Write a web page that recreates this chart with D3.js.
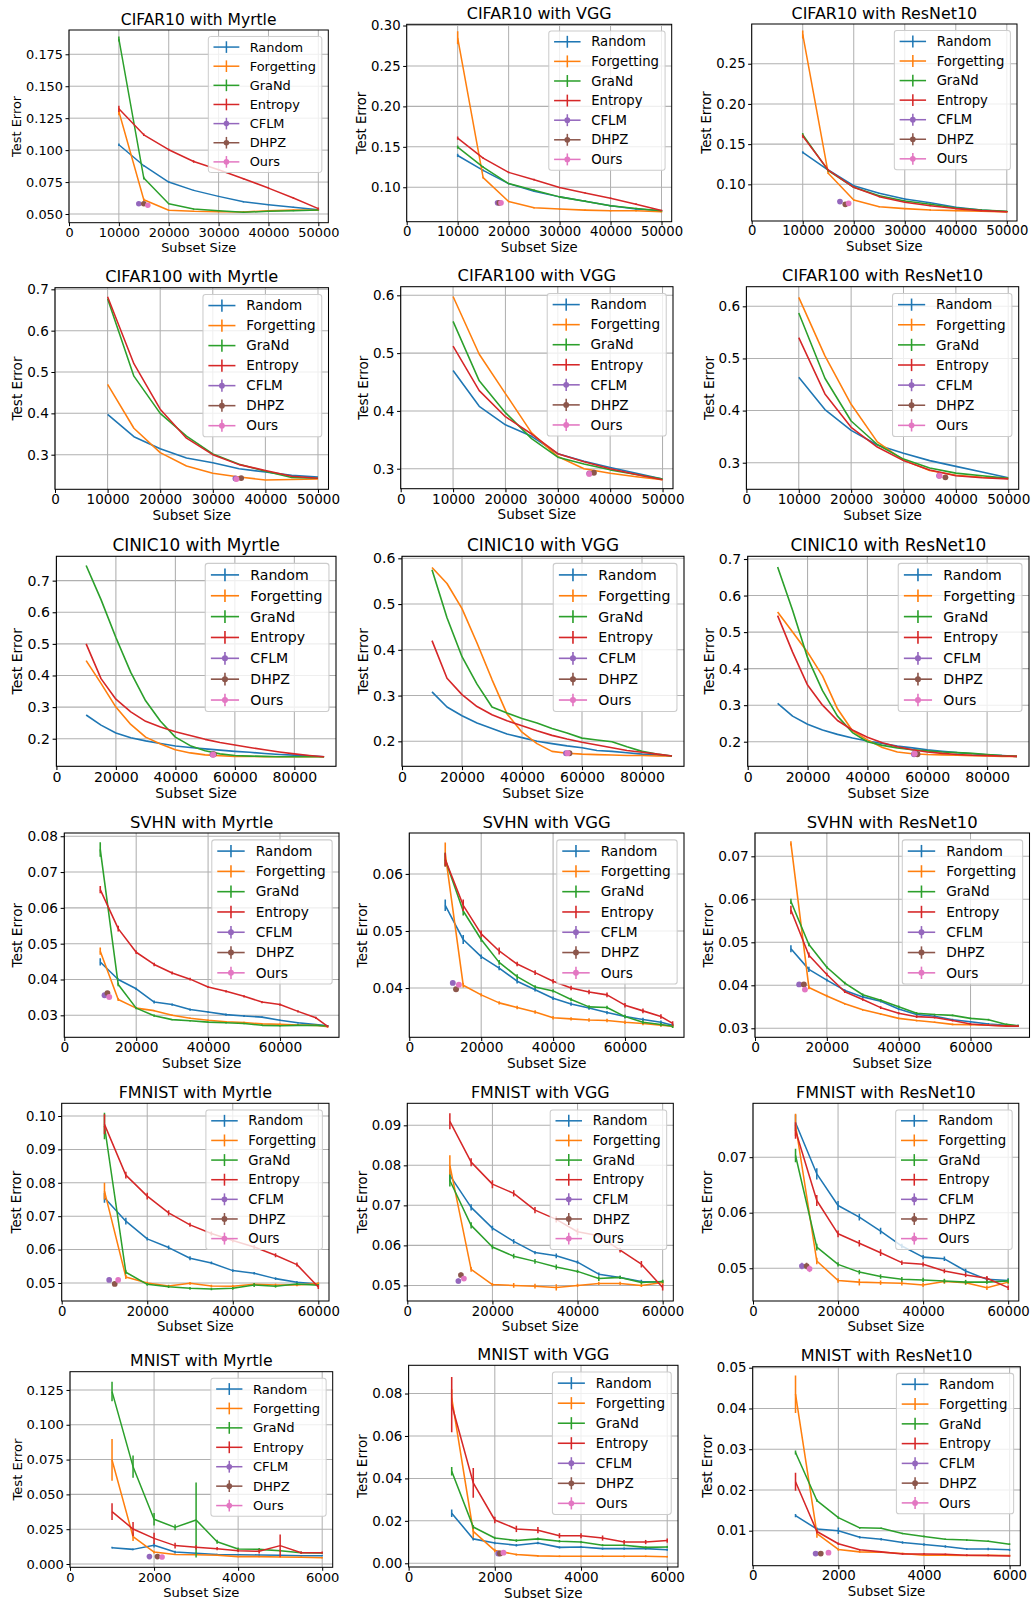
<!DOCTYPE html>
<html>
<head>
<meta charset="utf-8">
<script src="https://cdn.jsdelivr.net/npm/d3@7"></script>
<style>
body { margin: 0; background: #fff; }
svg text { font-family: "DejaVu Sans", sans-serif; fill: #000; }
</style>
</head>
<body>
<script>
// methods and colours (matplotlib tab10)
var methods = ["Random", "Forgetting", "GraNd", "Entropy", "CFLM", "DHPZ", "Ours"];
var colors = ["#1f77b4", "#ff7f0e", "#2ca02c", "#d62728", "#9467bd", "#8c564b", "#e377c2"];

// subset sizes
var sizesCifar = [10000, 15000, 20000, 25000, 30000, 35000, 40000, 45000, 50000];
var sizesCinic = [10000, 15000, 20000, 25000, 30000, 35000, 40000, 45000, 50000, 55000, 60000, 65000, 70000, 75000, 80000, 85000, 90000];
var sizesSvhn = [10000, 15000, 20000, 25000, 30000, 35000, 40000, 45000, 50000, 55000, 60000, 65000, 70000, 73257];
var sizesFmnist = [10000, 15000, 20000, 25000, 30000, 35000, 40000, 45000, 50000, 55000, 60000];
var sizesMnist = [1000, 1500, 2000, 2500, 3000, 3500, 4000, 4500, 5000, 5500, 6000];

// x tick labels
var xTicksCifar = [0, 10000, 20000, 30000, 40000, 50000];
var xTicksCinic = [0, 20000, 40000, 60000, 80000];
var xTicksSvhn = [0, 20000, 40000, 60000];
var xTicksFmnist = [0, 20000, 40000, 60000];
var xTicksMnist = [0, 2000, 4000, 6000];

// y tick labels
var yTicksA = [0.050, 0.075, 0.100, 0.125, 0.150, 0.175];
var yTicksB = [0.10, 0.15, 0.20, 0.25, 0.30];
var yTicksC = [0.10, 0.15, 0.20, 0.25];
var yTicksD = [0.3, 0.4, 0.5, 0.6, 0.7];
var yTicksE = [0.3, 0.4, 0.5, 0.6];
var yTicksF = [0.3, 0.4, 0.5, 0.6];
var yTicksG = [0.2, 0.3, 0.4, 0.5, 0.6, 0.7];
var yTicksH = [0.2, 0.3, 0.4, 0.5, 0.6];
var yTicksI = [0.2, 0.3, 0.4, 0.5, 0.6, 0.7];
var yTicksJ = [0.03, 0.04, 0.05, 0.06, 0.07, 0.08];
var yTicksK = [0.04, 0.05, 0.06];
var yTicksL = [0.03, 0.04, 0.05, 0.06, 0.07];
var yTicksM = [0.05, 0.06, 0.07, 0.08, 0.09, 0.10];
var yTicksN = [0.05, 0.06, 0.07, 0.08, 0.09];
var yTicksO = [0.05, 0.06, 0.07];
var yTicksP = [0.000, 0.025, 0.050, 0.075, 0.100, 0.125];
var yTicksQ = [0.00, 0.02, 0.04, 0.06, 0.08];
var yTicksR = [0.01, 0.02, 0.03, 0.04, 0.05];

// test error per panel: [Random, Forgetting, GraNd, Entropy]
var cifar10Myrtle = [
	[0.1042, 0.0878, 0.0750, 0.0685, 0.0638, 0.0596, 0.0573, 0.0552, 0.0534],
	[0.1302, 0.0612, 0.0529, 0.0521, 0.0518, 0.0516, 0.0526, 0.0531, 0.0529],
	[0.1870, 0.0781, 0.0581, 0.0539, 0.0526, 0.0513, 0.0521, 0.0526, 0.0531],
	[0.1323, 0.1120, 0.1003, 0.0911, 0.0846, 0.0776, 0.0703, 0.0625, 0.0542]];
var cifar10MyrtleErr = [
	[0.0010, 0.0006, 0.0006, 0.0005, 0.0005, 0.0005, 0.0005, 0.0005, 0.0005],
	[0.0030, 0.0010, 0.0005, 0.0005, 0.0005, 0.0005, 0.0005, 0.0005, 0.0005],
	[0.0020, 0.0010, 0.0005, 0.0005, 0.0005, 0.0005, 0.0005, 0.0005, 0.0005],
	[0.0025, 0.0010, 0.0008, 0.0010, 0.0006, 0.0006, 0.0006, 0.0006, 0.0008]];
var cifar10MyrtlePts = [[14000, 0.0581, 0.0008], [15000, 0.0581, 0.0008], [15800, 0.0568, 0.0008]];

var cifar10Vgg = [
	[0.1393, 0.1209, 0.1045, 0.0951, 0.0881, 0.0828, 0.0770, 0.0730, 0.0709],
	[0.2848, 0.1119, 0.0824, 0.0746, 0.0730, 0.0717, 0.0709, 0.0709, 0.0697],
	[0.1496, 0.1250, 0.1045, 0.0963, 0.0881, 0.0828, 0.0770, 0.0738, 0.0709],
	[0.1607, 0.1361, 0.1184, 0.1094, 0.0996, 0.0930, 0.0865, 0.0791, 0.0713]];
var cifar10VggErr = [
	[0.0020, 0.0010, 0.0008, 0.0008, 0.0008, 0.0008, 0.0008, 0.0008, 0.0008],
	[0.0080, 0.0010, 0.0008, 0.0008, 0.0008, 0.0008, 0.0008, 0.0008, 0.0008],
	[0.0020, 0.0010, 0.0008, 0.0008, 0.0008, 0.0008, 0.0008, 0.0008, 0.0008],
	[0.0020, 0.0010, 0.0010, 0.0010, 0.0008, 0.0008, 0.0008, 0.0010, 0.0008]];
var cifar10VggPts = [[17840, 0.0807, 0.0015], [18170, 0.0807, 0.0015], [18500, 0.0807, 0.0015]];

var cifar10Resnet = [
	[0.1398, 0.1178, 0.0983, 0.0888, 0.0818, 0.0772, 0.0714, 0.0681, 0.0660],
	[0.2864, 0.1137, 0.0805, 0.0722, 0.0698, 0.0681, 0.0673, 0.0665, 0.0656],
	[0.1617, 0.1170, 0.0963, 0.0859, 0.0793, 0.0751, 0.0706, 0.0681, 0.0664],
	[0.1600, 0.1178, 0.0963, 0.0847, 0.0776, 0.0735, 0.0698, 0.0673, 0.0660]];
var cifar10ResnetErr = [
	[0.0015, 0.0010, 0.0008, 0.0008, 0.0008, 0.0008, 0.0008, 0.0008, 0.0008],
	[0.0050, 0.0010, 0.0008, 0.0008, 0.0008, 0.0010, 0.0008, 0.0008, 0.0008],
	[0.0020, 0.0010, 0.0008, 0.0008, 0.0008, 0.0008, 0.0008, 0.0008, 0.0008],
	[0.0020, 0.0010, 0.0010, 0.0008, 0.0008, 0.0008, 0.0008, 0.0008, 0.0008]];
var cifar10ResnetPts = [[17300, 0.0785, 0.0012], [18350, 0.0751, 0.0012], [19000, 0.0764, 0.0012]];

var cifar100Myrtle = [
	[0.3976, 0.3435, 0.3145, 0.2920, 0.2806, 0.2660, 0.2580, 0.2500, 0.2460],
	[0.4700, 0.3640, 0.3050, 0.2726, 0.2550, 0.2460, 0.2390, 0.2400, 0.2410],
	[0.6770, 0.4900, 0.4000, 0.3450, 0.3020, 0.2770, 0.2600, 0.2450, 0.2430],
	[0.6820, 0.5200, 0.4100, 0.3400, 0.3000, 0.2760, 0.2620, 0.2480, 0.2430]];
var cifar100MyrtlePts = [[34300, 0.2425, 0.003], [35400, 0.2435, 0.003], [34500, 0.2410, 0.003]];

var cifar100Vgg = [
	[0.4700, 0.4080, 0.3760, 0.3560, 0.3260, 0.3130, 0.3020, 0.2920, 0.2820],
	[0.5980, 0.4980, 0.4300, 0.3620, 0.3210, 0.3000, 0.2920, 0.2860, 0.2810],
	[0.5550, 0.4520, 0.3970, 0.3520, 0.3200, 0.3080, 0.2980, 0.2900, 0.2820],
	[0.5120, 0.4350, 0.3900, 0.3600, 0.3260, 0.3120, 0.3000, 0.2900, 0.2810]];
var cifar100VggPts = [[36000, 0.2920, 0.004], [36900, 0.2930, 0.004], [36000, 0.2910, 0.004]];

var cifar100Resnet = [
	[0.4640, 0.4020, 0.3620, 0.3340, 0.3180, 0.3040, 0.2930, 0.2820, 0.2710],
	[0.6170, 0.5050, 0.4120, 0.3400, 0.3050, 0.2850, 0.2760, 0.2720, 0.2700],
	[0.5870, 0.4620, 0.3800, 0.3350, 0.3070, 0.2900, 0.2800, 0.2750, 0.2700],
	[0.5400, 0.4320, 0.3680, 0.3300, 0.3040, 0.2860, 0.2750, 0.2710, 0.2690]];
var cifar100ResnetPts = [[36800, 0.2750, 0.003], [38000, 0.2720, 0.003], [36900, 0.2750, 0.003]];

var cinicMyrtle = [
	[0.275, 0.243, 0.218, 0.203, 0.193, 0.185, 0.177, 0.172, 0.168, 0.164, 0.160, 0.157, 0.153, 0.150, 0.148, 0.146, 0.143],
	[0.447, 0.375, 0.300, 0.245, 0.205, 0.183, 0.165, 0.155, 0.149, 0.146, 0.144, 0.144, 0.143, 0.143, 0.143, 0.143, 0.143],
	[0.748, 0.640, 0.520, 0.410, 0.320, 0.255, 0.205, 0.178, 0.162, 0.152, 0.147, 0.145, 0.144, 0.143, 0.143, 0.143, 0.143],
	[0.500, 0.390, 0.325, 0.285, 0.255, 0.237, 0.222, 0.210, 0.198, 0.188, 0.180, 0.172, 0.165, 0.158, 0.152, 0.147, 0.143]];
var cinicMyrtlePts = [[52500, 0.150, 0.004], [52900, 0.151, 0.004], [52700, 0.149, 0.004]];

var cinicVgg = [
	[0.308, 0.275, 0.256, 0.240, 0.228, 0.216, 0.208, 0.200, 0.195, 0.190, 0.186, 0.180, 0.178, 0.175, 0.172, 0.170, 0.168],
	[0.580, 0.545, 0.490, 0.415, 0.335, 0.260, 0.220, 0.195, 0.178, 0.174, 0.172, 0.171, 0.170, 0.169, 0.169, 0.168, 0.168],
	[0.575, 0.470, 0.385, 0.325, 0.275, 0.262, 0.250, 0.240, 0.228, 0.218, 0.207, 0.203, 0.199, 0.188, 0.178, 0.172, 0.168],
	[0.420, 0.338, 0.302, 0.276, 0.258, 0.245, 0.234, 0.223, 0.213, 0.205, 0.198, 0.192, 0.186, 0.180, 0.176, 0.172, 0.168]];
var cinicVggPts = [[54700, 0.174, 0.004], [55800, 0.174, 0.004], [55200, 0.174, 0.004]];

var cinicResnet = [
	[0.305, 0.270, 0.248, 0.232, 0.220, 0.210, 0.202, 0.195, 0.188, 0.183, 0.178, 0.174, 0.170, 0.167, 0.164, 0.162, 0.160],
	[0.555, 0.500, 0.445, 0.380, 0.290, 0.230, 0.205, 0.184, 0.172, 0.167, 0.165, 0.164, 0.163, 0.162, 0.161, 0.160, 0.160],
	[0.678, 0.560, 0.430, 0.340, 0.270, 0.225, 0.200, 0.190, 0.183, 0.178, 0.175, 0.172, 0.170, 0.168, 0.165, 0.162, 0.160],
	[0.545, 0.445, 0.355, 0.300, 0.258, 0.232, 0.212, 0.197, 0.186, 0.178, 0.172, 0.168, 0.165, 0.163, 0.162, 0.161, 0.160]];
var cinicResnetPts = [[55600, 0.166, 0.004], [56700, 0.166, 0.004], [55800, 0.167, 0.004]];

var svhnMyrtle = [
	[0.0449, 0.0400, 0.0374, 0.0337, 0.0330, 0.0316, 0.0309, 0.0302, 0.0298, 0.0295, 0.0286, 0.0279, 0.0274, 0.0271],
	[0.0479, 0.0344, 0.0320, 0.0313, 0.0300, 0.0292, 0.0286, 0.0282, 0.0280, 0.0276, 0.0275, 0.0273, 0.0272, 0.0268],
	[0.0763, 0.0386, 0.0320, 0.0299, 0.0288, 0.0285, 0.0281, 0.0279, 0.0277, 0.0272, 0.0271, 0.0272, 0.0272, 0.0270],
	[0.0651, 0.0542, 0.0476, 0.0442, 0.0418, 0.0401, 0.0379, 0.0367, 0.0353, 0.0337, 0.0330, 0.0311, 0.0293, 0.0269]];
var svhnMyrtleErr = [
	[0.0010, 0.0003, 0.0003, 0.0004, 0.0003, 0.0003, 0.0002, 0.0003, 0.0003, 0.0002, 0.0002, 0.0002, 0.0002, 0.0002],
	[0.0010, 0.0004, 0.0002, 0.0002, 0.0002, 0.0002, 0.0002, 0.0002, 0.0002, 0.0002, 0.0002, 0.0002, 0.0002, 0.0002],
	[0.0020, 0.0005, 0.0003, 0.0003, 0.0002, 0.0002, 0.0002, 0.0002, 0.0002, 0.0002, 0.0002, 0.0002, 0.0002, 0.0002],
	[0.0010, 0.0008, 0.0005, 0.0005, 0.0004, 0.0004, 0.0003, 0.0003, 0.0003, 0.0003, 0.0003, 0.0003, 0.0003, 0.0003]];
var svhnMyrtlePts = [[11200, 0.0356, 0.0005], [12000, 0.0362, 0.0005], [12500, 0.0351, 0.0005]];

var svhnVgg = [
	[0.0545, 0.0485, 0.0455, 0.0435, 0.0412, 0.0397, 0.0382, 0.0372, 0.0365, 0.0357, 0.0350, 0.0345, 0.0340, 0.0335],
	[0.0635, 0.0405, 0.0388, 0.0374, 0.0366, 0.0358, 0.0348, 0.0346, 0.0344, 0.0343, 0.0340, 0.0338, 0.0335, 0.0333],
	[0.0625, 0.0535, 0.0485, 0.0445, 0.0420, 0.0402, 0.0395, 0.0380, 0.0367, 0.0366, 0.0350, 0.0340, 0.0336, 0.0333],
	[0.0625, 0.0545, 0.0495, 0.0465, 0.0442, 0.0427, 0.0412, 0.0400, 0.0393, 0.0388, 0.0370, 0.0360, 0.0350, 0.0338]];
var svhnVggErr = [
	[0.0010, 0.0008, 0.0004, 0.0004, 0.0004, 0.0003, 0.0003, 0.0003, 0.0003, 0.0003, 0.0003, 0.0003, 0.0003, 0.0003],
	[0.0020, 0.0004, 0.0003, 0.0003, 0.0003, 0.0003, 0.0003, 0.0003, 0.0003, 0.0003, 0.0003, 0.0003, 0.0003, 0.0003],
	[0.0012, 0.0008, 0.0004, 0.0004, 0.0004, 0.0003, 0.0003, 0.0003, 0.0003, 0.0003, 0.0003, 0.0003, 0.0003, 0.0003],
	[0.0012, 0.0010, 0.0006, 0.0006, 0.0004, 0.0004, 0.0004, 0.0004, 0.0004, 0.0004, 0.0004, 0.0004, 0.0004, 0.0004]];
var svhnVggPts = [[12100, 0.0409, 0.0003], [13000, 0.0398, 0.0003], [13800, 0.0406, 0.0003]];

var svhnResnet = [
	[0.0485, 0.0437, 0.0412, 0.0388, 0.0373, 0.0363, 0.0345, 0.0332, 0.0328, 0.0320, 0.0315, 0.0310, 0.0307, 0.0306],
	[0.0730, 0.0395, 0.0375, 0.0357, 0.0343, 0.0333, 0.0323, 0.0318, 0.0314, 0.0309, 0.0308, 0.0307, 0.0306, 0.0305],
	[0.0595, 0.0495, 0.0442, 0.0405, 0.0378, 0.0365, 0.0350, 0.0335, 0.0332, 0.0330, 0.0323, 0.0320, 0.0309, 0.0306],
	[0.0575, 0.0470, 0.0425, 0.0385, 0.0367, 0.0348, 0.0335, 0.0327, 0.0325, 0.0318, 0.0310, 0.0307, 0.0305, 0.0305]];
var svhnResnetErr = [
	[0.0008, 0.0006, 0.0003, 0.0003, 0.0003, 0.0003, 0.0003, 0.0003, 0.0003, 0.0002, 0.0002, 0.0002, 0.0002, 0.0002],
	[0.0005, 0.0004, 0.0003, 0.0002, 0.0002, 0.0002, 0.0002, 0.0002, 0.0002, 0.0002, 0.0002, 0.0002, 0.0002, 0.0002],
	[0.0006, 0.0004, 0.0003, 0.0003, 0.0003, 0.0003, 0.0003, 0.0003, 0.0002, 0.0002, 0.0002, 0.0002, 0.0002, 0.0002],
	[0.0010, 0.0006, 0.0004, 0.0003, 0.0003, 0.0003, 0.0003, 0.0003, 0.0002, 0.0002, 0.0002, 0.0002, 0.0002, 0.0002]];
var svhnResnetPts = [[12300, 0.0402, 0.0003], [13600, 0.0402, 0.0003], [13900, 0.0390, 0.0003]];

var fmnistMyrtle = [
	[0.0755, 0.0685, 0.0632, 0.0606, 0.0574, 0.0560, 0.0537, 0.0529, 0.0513, 0.0502, 0.0497],
	[0.0775, 0.0518, 0.0500, 0.0491, 0.0499, 0.0491, 0.0490, 0.0496, 0.0494, 0.0494, 0.0498],
	[0.0970, 0.0532, 0.0496, 0.0489, 0.0484, 0.0482, 0.0484, 0.0494, 0.0490, 0.0497, 0.0493],
	[0.0975, 0.0823, 0.0760, 0.0710, 0.0674, 0.0648, 0.0627, 0.0608, 0.0583, 0.0555, 0.0488]];
var fmnistMyrtleErr = [
	[0.0015, 0.0010, 0.0005, 0.0006, 0.0006, 0.0004, 0.0004, 0.0004, 0.0004, 0.0004, 0.0004],
	[0.0025, 0.0006, 0.0004, 0.0004, 0.0004, 0.0004, 0.0004, 0.0004, 0.0004, 0.0004, 0.0004],
	[0.0040, 0.0006, 0.0004, 0.0004, 0.0004, 0.0004, 0.0004, 0.0006, 0.0004, 0.0004, 0.0004],
	[0.0030, 0.0010, 0.0010, 0.0008, 0.0006, 0.0006, 0.0006, 0.0006, 0.0006, 0.0006, 0.0006]];
var fmnistMyrtlePts = [[11100, 0.0509, 0.0006], [12400, 0.0497, 0.0006], [13200, 0.0509, 0.0006]];

var fmnistVgg = [
	[0.0775, 0.0695, 0.0643, 0.0610, 0.0582, 0.0574, 0.0558, 0.0528, 0.0520, 0.0510, 0.0508],
	[0.0800, 0.0540, 0.0502, 0.0500, 0.0498, 0.0495, 0.0500, 0.0505, 0.0505, 0.0500, 0.0507],
	[0.0762, 0.0650, 0.0596, 0.0573, 0.0560, 0.0546, 0.0535, 0.0517, 0.0520, 0.0507, 0.0510],
	[0.0910, 0.0808, 0.0753, 0.0730, 0.0688, 0.0665, 0.0634, 0.0624, 0.0588, 0.0553, 0.0495]];
var fmnistVggErr = [
	[0.0015, 0.0008, 0.0006, 0.0006, 0.0004, 0.0006, 0.0004, 0.0004, 0.0004, 0.0004, 0.0004],
	[0.0025, 0.0006, 0.0004, 0.0006, 0.0006, 0.0008, 0.0004, 0.0004, 0.0004, 0.0004, 0.0006],
	[0.0015, 0.0008, 0.0006, 0.0006, 0.0006, 0.0006, 0.0004, 0.0006, 0.0004, 0.0004, 0.0004],
	[0.0020, 0.0010, 0.0010, 0.0008, 0.0008, 0.0008, 0.0008, 0.0006, 0.0006, 0.0008, 0.0008]];
var fmnistVggPts = [[12000, 0.0511, 0.0006], [12600, 0.0526, 0.0006], [13300, 0.0517, 0.0006]];

var fmnistResnet = [
	[0.0762, 0.0670, 0.0613, 0.0592, 0.0567, 0.0540, 0.0520, 0.0517, 0.0495, 0.0480, 0.0478],
	[0.0758, 0.0513, 0.0478, 0.0475, 0.0474, 0.0473, 0.0470, 0.0476, 0.0474, 0.0465, 0.0475],
	[0.0703, 0.0538, 0.0507, 0.0493, 0.0485, 0.0480, 0.0479, 0.0477, 0.0475, 0.0475, 0.0477],
	[0.0748, 0.0622, 0.0562, 0.0545, 0.0528, 0.0510, 0.0507, 0.0495, 0.0488, 0.0482, 0.0465]];
var fmnistResnetErr = [
	[0.0015, 0.0010, 0.0008, 0.0006, 0.0006, 0.0004, 0.0004, 0.0004, 0.0004, 0.0004, 0.0004],
	[0.0020, 0.0006, 0.0004, 0.0006, 0.0004, 0.0004, 0.0004, 0.0004, 0.0004, 0.0004, 0.0004],
	[0.0012, 0.0006, 0.0004, 0.0004, 0.0004, 0.0004, 0.0004, 0.0004, 0.0004, 0.0004, 0.0004],
	[0.0015, 0.0010, 0.0006, 0.0006, 0.0006, 0.0004, 0.0004, 0.0004, 0.0004, 0.0004, 0.0004]];
var fmnistResnetPts = [[11500, 0.0504, 0.0006], [12600, 0.0504, 0.0006], [13300, 0.0499, 0.0006]];

var mnistMyrtle = [
	[0.0117, 0.0105, 0.0134, 0.0086, 0.0077, 0.0069, 0.0067, 0.0065, 0.0062, 0.0060, 0.0060],
	[0.0747, 0.0196, 0.0086, 0.0069, 0.0067, 0.0062, 0.0053, 0.0053, 0.0050, 0.0048, 0.0045],
	[0.1238, 0.0699, 0.0321, 0.0263, 0.0316, 0.0160, 0.0108, 0.0105, 0.0096, 0.0081, 0.0079],
	[0.0376, 0.0251, 0.0184, 0.0132, 0.0120, 0.0110, 0.0096, 0.0091, 0.0132, 0.0081, 0.0081]];
var mnistMyrtleErr = [
	[0.0006, 0.0006, 0.0015, 0.0010, 0.0005, 0.0005, 0.0005, 0.0005, 0.0005, 0.0005, 0.0005],
	[0.0150, 0.0030, 0.0010, 0.0005, 0.0005, 0.0005, 0.0005, 0.0005, 0.0005, 0.0005, 0.0005],
	[0.0070, 0.0080, 0.0045, 0.0020, 0.0270, 0.0015, 0.0010, 0.0010, 0.0008, 0.0008, 0.0005],
	[0.0060, 0.0050, 0.0040, 0.0020, 0.0015, 0.0012, 0.0010, 0.0015, 0.0080, 0.0008, 0.0008]];
var mnistMyrtlePts = [[1890, 0.0053, 0.0005], [2080, 0.0053, 0.0005], [2190, 0.0050, 0.0005]];

var mnistVgg = [
	[0.0236, 0.0115, 0.0096, 0.0085, 0.0096, 0.0075, 0.0077, 0.0069, 0.0069, 0.0069, 0.0064],
	[0.0780, 0.0150, 0.0060, 0.0041, 0.0035, 0.0033, 0.0033, 0.0033, 0.0033, 0.0033, 0.0031],
	[0.0434, 0.0171, 0.0119, 0.0107, 0.0115, 0.0104, 0.0100, 0.0085, 0.0085, 0.0075, 0.0077],
	[0.0748, 0.0379, 0.0204, 0.0162, 0.0156, 0.0130, 0.0130, 0.0119, 0.0100, 0.0100, 0.0107]];
var mnistVggErr = [
	[0.0018, 0.0008, 0.0006, 0.0006, 0.0006, 0.0005, 0.0005, 0.0005, 0.0005, 0.0005, 0.0005],
	[0.0040, 0.0030, 0.0008, 0.0005, 0.0004, 0.0004, 0.0004, 0.0004, 0.0004, 0.0004, 0.0004],
	[0.0020, 0.0008, 0.0006, 0.0006, 0.0006, 0.0006, 0.0005, 0.0005, 0.0005, 0.0005, 0.0005],
	[0.0130, 0.0070, 0.0015, 0.0015, 0.0015, 0.0012, 0.0012, 0.0012, 0.0010, 0.0010, 0.0010]];
var mnistVggPts = [[2080, 0.0046, 0.0008], [2120, 0.0046, 0.0008], [2200, 0.0050, 0.0008]];

var mnistResnet = [
	[0.0137, 0.0104, 0.0100, 0.0084, 0.0079, 0.0071, 0.0066, 0.0061, 0.0055, 0.0055, 0.0053],
	[0.0435, 0.0093, 0.0054, 0.0048, 0.0047, 0.0044, 0.0040, 0.0040, 0.0039, 0.0040, 0.0039],
	[0.0292, 0.0174, 0.0132, 0.0107, 0.0106, 0.0093, 0.0086, 0.0079, 0.0077, 0.0074, 0.0067],
	[0.0220, 0.0098, 0.0068, 0.0053, 0.0048, 0.0043, 0.0043, 0.0042, 0.0040, 0.0039, 0.0038]];
var mnistResnetErr = [
	[0.0004, 0.0004, 0.0008, 0.0003, 0.0003, 0.0003, 0.0003, 0.0003, 0.0002, 0.0003, 0.0003],
	[0.0046, 0.0010, 0.0003, 0.0002, 0.0002, 0.0002, 0.0002, 0.0002, 0.0002, 0.0002, 0.0002],
	[0.0005, 0.0003, 0.0003, 0.0002, 0.0002, 0.0002, 0.0002, 0.0002, 0.0002, 0.0002, 0.0002],
	[0.0022, 0.0005, 0.0003, 0.0002, 0.0002, 0.0002, 0.0002, 0.0002, 0.0002, 0.0002, 0.0002]];
var mnistResnetPts = [[1470, 0.0044, 0.0003], [1590, 0.0044, 0.0003], [1770, 0.0046, 0.0003]];

// each panel: title, frame box [left, top, right, bottom], axis limits and data
var panels = [
	{title: "CIFAR10 with Myrtle", box: [69, 30, 328.3, 222.7], sizes: sizesCifar, xMax: 52000, xTicks: xTicksCifar, yDomain: [0.0432, 0.194], yTicks: yTicksA, yFmt: ".3f", lines: cifar10Myrtle, err: cifar10MyrtleErr, pts: cifar10MyrtlePts},
	{title: "CIFAR10 with VGG", box: [406.7, 24.3, 671.7, 221.7], sizes: sizesCifar, xMax: 52000, xTicks: xTicksCifar, yDomain: [0.0574, 0.3015], yTicks: yTicksB, yFmt: ".2f", lines: cifar10Vgg, err: cifar10VggErr, pts: cifar10VggPts},
	{title: "CIFAR10 with ResNet10", box: [751.7, 24, 1017, 221], sizes: sizesCifar, xMax: 52000, xTicks: xTicksCifar, yDomain: [0.0544, 0.2994], yTicks: yTicksC, yFmt: ".2f", lines: cifar10Resnet, err: cifar10ResnetErr, pts: cifar10ResnetPts},
	{title: "CIFAR100 with Myrtle", box: [55, 287.7, 328.5, 489.3], sizes: sizesCifar, xMax: 52000, xTicks: xTicksCifar, yDomain: [0.2163, 0.7039], yTicks: yTicksD, yFmt: ".1f", lines: cifar100Myrtle, err: null, pts: cifar100MyrtlePts},
	{title: "CIFAR100 with VGG", box: [400.7, 286.7, 673, 488.7], sizes: sizesCifar, xMax: 52000, xTicks: xTicksCifar, yDomain: [0.2654, 0.6149], yTicks: yTicksE, yFmt: ".1f", lines: cifar100Vgg, err: null, pts: cifar100VggPts},
	{title: "CIFAR100 with ResNet10", box: [746.4, 286.7, 1018.7, 489.3], sizes: sizesCifar, xMax: 52000, xTicks: xTicksCifar, yDomain: [0.2490, 0.6376], yTicks: yTicksF, yFmt: ".1f", lines: cifar100Resnet, err: null, pts: cifar100ResnetPts},
	{title: "CINIC10 with Myrtle", box: [56.4, 556.3, 336, 766.3], sizes: sizesCinic, xMax: 94000, xTicks: xTicksCinic, yDomain: [0.1127, 0.7770], yTicks: yTicksG, yFmt: ".1f", lines: cinicMyrtle, err: null, pts: cinicMyrtlePts},
	{title: "CINIC10 with VGG", box: [402, 556.3, 684, 766.3], sizes: sizesCinic, xMax: 94000, xTicks: xTicksCinic, yDomain: [0.1454, 0.6044], yTicks: yTicksH, yFmt: ".1f", lines: cinicVgg, err: null, pts: cinicVggPts},
	{title: "CINIC10 with ResNet10", box: [747.7, 556.3, 1029, 766.3], sizes: sizesCinic, xMax: 94000, xTicks: xTicksCinic, yDomain: [0.1327, 0.7074], yTicks: yTicksI, yFmt: ".1f", lines: cinicResnet, err: null, pts: cinicResnetPts},
	{title: "SVHN with Myrtle", box: [64.3, 833, 339, 1037.3], sizes: sizesSvhn, xMax: 76420, xTicks: xTicksSvhn, yDomain: [0.02386, 0.0809], yTicks: yTicksJ, yFmt: ".2f", lines: svhnMyrtle, err: svhnMyrtleErr, pts: svhnMyrtlePts},
	{title: "SVHN with VGG", box: [409.3, 833, 684, 1037.3], sizes: sizesSvhn, xMax: 76420, xTicks: xTicksSvhn, yDomain: [0.03137, 0.06717], yTicks: yTicksK, yFmt: ".2f", lines: svhnVgg, err: svhnVggErr, pts: svhnVggPts},
	{title: "SVHN with ResNet10", box: [755, 833, 1029.5, 1037.3], sizes: sizesSvhn, xMax: 76420, xTicks: xTicksSvhn, yDomain: [0.0279, 0.07542], yTicks: yTicksL, yFmt: ".2f", lines: svhnResnet, err: svhnResnetErr, pts: svhnResnetPts},
	{title: "FMNIST with Myrtle", box: [61.7, 1103.3, 329, 1301], sizes: sizesFmnist, xMax: 62500, xTicks: xTicksFmnist, yDomain: [0.0446, 0.1038], yTicks: yTicksM, yFmt: ".2f", lines: fmnistMyrtle, err: fmnistMyrtleErr, pts: fmnistMyrtlePts},
	{title: "FMNIST with VGG", box: [407.3, 1103.3, 673.3, 1301], sizes: sizesFmnist, xMax: 62500, xTicks: xTicksFmnist, yDomain: [0.0461, 0.0955], yTicks: yTicksN, yFmt: ".2f", lines: fmnistVgg, err: fmnistVggErr, pts: fmnistVggPts},
	{title: "FMNIST with ResNet10", box: [753, 1103.3, 1018.8, 1301], sizes: sizesFmnist, xMax: 62500, xTicks: xTicksFmnist, yDomain: [0.0441, 0.0797], yTicks: yTicksO, yFmt: ".2f", lines: fmnistResnet, err: fmnistResnetErr, pts: fmnistResnetPts},
	{title: "MNIST with Myrtle", box: [70, 1371.7, 332.7, 1567.3], sizes: sizesMnist, xMax: 6250, xTicks: xTicksMnist, yDomain: [-0.00237, 0.1381], yTicks: yTicksP, yFmt: ".3f", lines: mnistMyrtle, err: mnistMyrtleErr, pts: mnistMyrtlePts},
	{title: "MNIST with VGG", box: [408.6, 1365.3, 678, 1567], sizes: sizesMnist, xMax: 6250, xTicks: xTicksMnist, yDomain: [-0.00175, 0.0933], yTicks: yTicksQ, yFmt: ".2f", lines: mnistVgg, err: mnistVggErr, pts: mnistVggPts},
	{title: "MNIST with ResNet10", box: [752.7, 1366.7, 1020.3, 1565.7], sizes: sizesMnist, xMax: 6250, xTicks: xTicksMnist, yDomain: [0.00141, 0.05025], yTicks: yTicksR, yFmt: ".2f", lines: mnistResnet, err: mnistResnetErr, pts: mnistResnetPts}
];

var svg = d3.select("body").append("svg")
	.attr("width", 1031)
	.attr("height", 1598);

panels.forEach(function(p, pi) {
	var l = p.box[0], t = p.box[1], r = p.box[2], b = p.box[3];
	var fs = (b - t) * 0.0671;   // each panel was scaled on its own
	var k = fs / 13;
	var lw = 1.5 * k;

	var x = d3.scaleLinear().domain([0, p.xMax]).range([l, r]);
	var y = d3.scaleLinear().domain(p.yDomain).range([b, t]);

	var g = svg.append("g");

	// grid
	g.selectAll(".gx").data(p.xTicks).enter().append("line")
		.attr("x1", function(d) { return x(d); })
		.attr("x2", function(d) { return x(d); })
		.attr("y1", t).attr("y2", b)
		.attr("stroke", "#b0b0b0").attr("stroke-width", 1.0 * k);
	g.selectAll(".gy").data(p.yTicks).enter().append("line")
		.attr("x1", l).attr("x2", r)
		.attr("y1", function(d) { return y(d); })
		.attr("y2", function(d) { return y(d); })
		.attr("stroke", "#b0b0b0").attr("stroke-width", 1.0 * k);

	svg.append("clipPath").attr("id", "clip" + pi)
		.append("rect").attr("x", l).attr("y", t).attr("width", r - l).attr("height", b - t);
	var plot = g.append("g").attr("clip-path", "url(#clip" + pi + ")");

	var line = d3.line()
		.x(function(d, i) { return x(p.sizes[i]); })
		.y(function(d) { return y(d); });

	p.lines.forEach(function(vals, si) {
		plot.append("path")
			.datum(vals)
			.attr("d", line)
			.attr("fill", "none")
			.attr("stroke", colors[si])
			.attr("stroke-width", lw)
			.attr("stroke-linejoin", "round");
		if (p.err && p.err[si]) {
			var e = p.err[si];
			plot.selectAll(null).data(vals).enter().append("line")
				.attr("x1", function(d, i) { return x(p.sizes[i]); })
				.attr("x2", function(d, i) { return x(p.sizes[i]); })
				.attr("y1", function(d, i) { return y(d - e[i]); })
				.attr("y2", function(d, i) { return y(d + e[i]); })
				.attr("stroke", colors[si])
				.attr("stroke-width", lw);
		}
	});

	// single-point methods
	p.pts.forEach(function(pt, j) {
		var c = colors[4 + j];
		plot.append("line")
			.attr("x1", x(pt[0])).attr("x2", x(pt[0]))
			.attr("y1", y(pt[1] - pt[2])).attr("y2", y(pt[1] + pt[2]))
			.attr("stroke", c).attr("stroke-width", lw);
		plot.append("circle")
			.attr("cx", x(pt[0])).attr("cy", y(pt[1]))
			.attr("r", 2.8 * k)
			.attr("fill", c);
	});

	// frame
	g.append("rect")
		.attr("x", l).attr("y", t).attr("width", r - l).attr("height", b - t)
		.attr("fill", "none").attr("stroke", "#000").attr("stroke-width", 1.0 * k);

	// axes
	var xAxis = g.append("g")
		.attr("transform", "translate(0," + b + ")")
		.call(d3.axisBottom(x).tickValues(p.xTicks).tickFormat(d3.format("d"))
			.tickSize(3.5 * k).tickPadding(1.5 * k));
	var yAxis = g.append("g")
		.attr("transform", "translate(" + l + ",0)")
		.call(d3.axisLeft(y).tickValues(p.yTicks).tickFormat(d3.format(p.yFmt))
			.tickSize(3.5 * k).tickPadding(2.5 * k));
	[xAxis, yAxis].forEach(function(a) {
		a.select(".domain").remove();
		a.selectAll(".tick line").attr("stroke", "#000").attr("stroke-width", 1.0 * k);
		a.selectAll(".tick text")
			.attr("font-family", "DejaVu Sans")
			.attr("font-size", fs).attr("fill", "#000");
	});

	// bbox is in the axis group's own coordinates, so add the translate
	var yb = yAxis.node().getBBox();

	g.append("text")
		.attr("x", (l + r) / 2).attr("y", t - 0.4 * fs)
		.attr("text-anchor", "middle")
		.attr("font-size", 1.2 * fs)
		.text(p.title);

	g.append("text")
		.attr("x", (l + r) / 2).attr("y", b + 2.27 * fs)
		.attr("text-anchor", "middle")
		.attr("font-size", fs)
		.text("Subset Size");

	var lx = l + yb.x - 0.72 * fs, ly = (t + b) / 2;
	g.append("text")
		.attr("transform", "translate(" + lx + "," + ly + ") rotate(-90)")
		.attr("text-anchor", "middle")
		.attr("dy", "0.35em")
		.attr("font-size", fs)
		.text("Test Error");

	// legend
	var lgW = 8.78 * fs, lgH = 10.52 * fs;
	var lgX = r - 0.5 * fs - lgW, lgY = t + 0.5 * fs;
	var lg = g.append("g");
	lg.append("rect")
		.attr("x", lgX).attr("y", lgY).attr("width", lgW).attr("height", lgH)
		.attr("rx", 2.5 * k)
		.attr("fill", "#fff").attr("fill-opacity", 0.8)
		.attr("stroke", "#cccccc").attr("stroke-width", 1.0 * k);
	methods.forEach(function(m, i) {
		var cy = lgY + 0.82 * fs + i * 1.48 * fs;
		var hx0 = lgX + 0.4 * fs, hx1 = lgX + 2.4 * fs, hc = (hx0 + hx1) / 2;
		lg.append("line")
			.attr("x1", hx0).attr("x2", hx1).attr("y1", cy).attr("y2", cy)
			.attr("stroke", colors[i]).attr("stroke-width", lw);
		lg.append("line")
			.attr("x1", hc).attr("x2", hc).attr("y1", cy - 0.45 * fs).attr("y2", cy + 0.45 * fs)
			.attr("stroke", colors[i]).attr("stroke-width", lw);
		if (i >= 4) {
			lg.append("circle").attr("cx", hc).attr("cy", cy).attr("r", 2.8 * k).attr("fill", colors[i]);
		}
		lg.append("text")
			.attr("x", lgX + 3.2 * fs).attr("y", cy)
			.attr("dy", "0.35em")
			.attr("font-size", fs)
			.text(m);
	});
});
</script>
</body>
</html>
